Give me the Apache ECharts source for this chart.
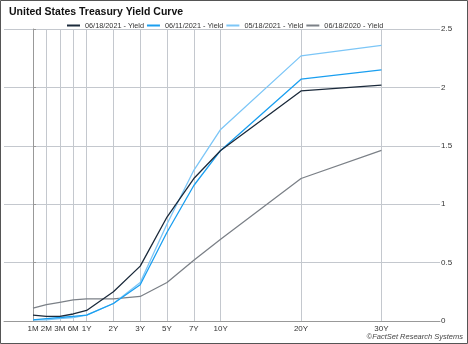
<!DOCTYPE html>
<html><head><meta charset="utf-8">
<script src="https://cdn.jsdelivr.net/npm/echarts@6/dist/echarts.min.js"></script>
<style>html,body{margin:0;padding:0;background:#fff}#c{width:468px;height:344px}</style>
</head><body><div id="c"></div>
<script>
var tenors = ['1M','2M','3M','6M','1Y','2Y','3Y','5Y','7Y','10Y','20Y','30Y'];
var tenorPos = [0,1,2,3,4,6,8,10,12,14,20,26];
var y20210618 = [0.05,0.04,0.04,0.06,0.09,0.25,0.47,0.89,1.22,1.46,1.97,2.02];
var y20210611 = [0.01,0.02,0.03,0.04,0.05,0.15,0.31,0.76,1.16,1.46,2.07,2.15];
var y20210518 = [0.01,0.01,0.02,0.03,0.05,0.15,0.33,0.83,1.29,1.64,2.27,2.36];
var y20200618 = [0.11,0.14,0.16,0.18,0.19,0.19,0.21,0.33,0.52,0.70,1.22,1.46];
var seriesNames = ['06/18/2021 - Yield','06/11/2021 - Yield','05/18/2021 - Yield','06/18/2020 - Yield'];

function pairs(v){return v.map(function(y,i){return [tenorPos[i],y];});}
var colors = ['#1b2a3b','#1a9ff0','#7cc6f7','#7b8087'];
var data = [y20210618,y20210611,y20210518,y20200618];
var font = 'Liberation Sans, Arial, sans-serif';
var chart = echarts.init(document.getElementById('c'));
chart.setOption({
  animation:false,
  textStyle:{fontFamily:font},
  title:{text:'United States Treasury Yield Curve',left:4,top:2,textStyle:{fontSize:10.5,fontWeight:'bold',color:'#111',fontFamily:font}},
  legend:{top:17,left:62,itemWidth:13,itemHeight:2,itemGap:3,icon:'rect',textStyle:{fontSize:7.3,color:'#333',fontFamily:font},data:seriesNames},
  grid:{left:4,right:28,top:29,bottom:23,containLabel:false},
  xAxis:{type:'value',min:-2.164,max:30.37,
    axisLine:{show:true,onZero:false,lineStyle:{color:'#999',width:1}},
    axisTick:{show:false,customValues:tenorPos},
    axisLabel:{customValues:tenorPos,fontSize:8,color:'#333',margin:4,formatter:function(v){var i=tenorPos.indexOf(v);return i>=0?tenors[i]:'';}},
    splitLine:{show:true,lineStyle:{color:'#c4c8ce',width:1}}
  },
  yAxis:{type:'value',position:'right',min:0,max:2.5,interval:0.5,
    axisLine:{show:true,lineStyle:{color:'#999'}},
    axisTick:{show:true,length:3,lineStyle:{color:'#999'}},
    axisLabel:{fontSize:8,color:'#333',margin:1},
    splitLine:{show:true,lineStyle:{color:'#c4c8ce'}}
  },
  graphic:[
    {type:'rect',shape:{x:0.5,y:0.5,width:467,height:343},style:{fill:'none',stroke:'#555',lineWidth:1},z:100},
    {type:'text',right:5,bottom:3,style:{text:'©FactSet Research Systems',fontSize:7.5,fontStyle:'italic',fill:'#444',fontFamily:font}}
  ],
  series:data.map(function(d,i){return {name:seriesNames[i],type:'line',data:pairs(d),symbol:'none',
    lineStyle:{width:1.3,color:colors[i]},itemStyle:{color:colors[i]},z:10-i};})
});
</script></body></html>
